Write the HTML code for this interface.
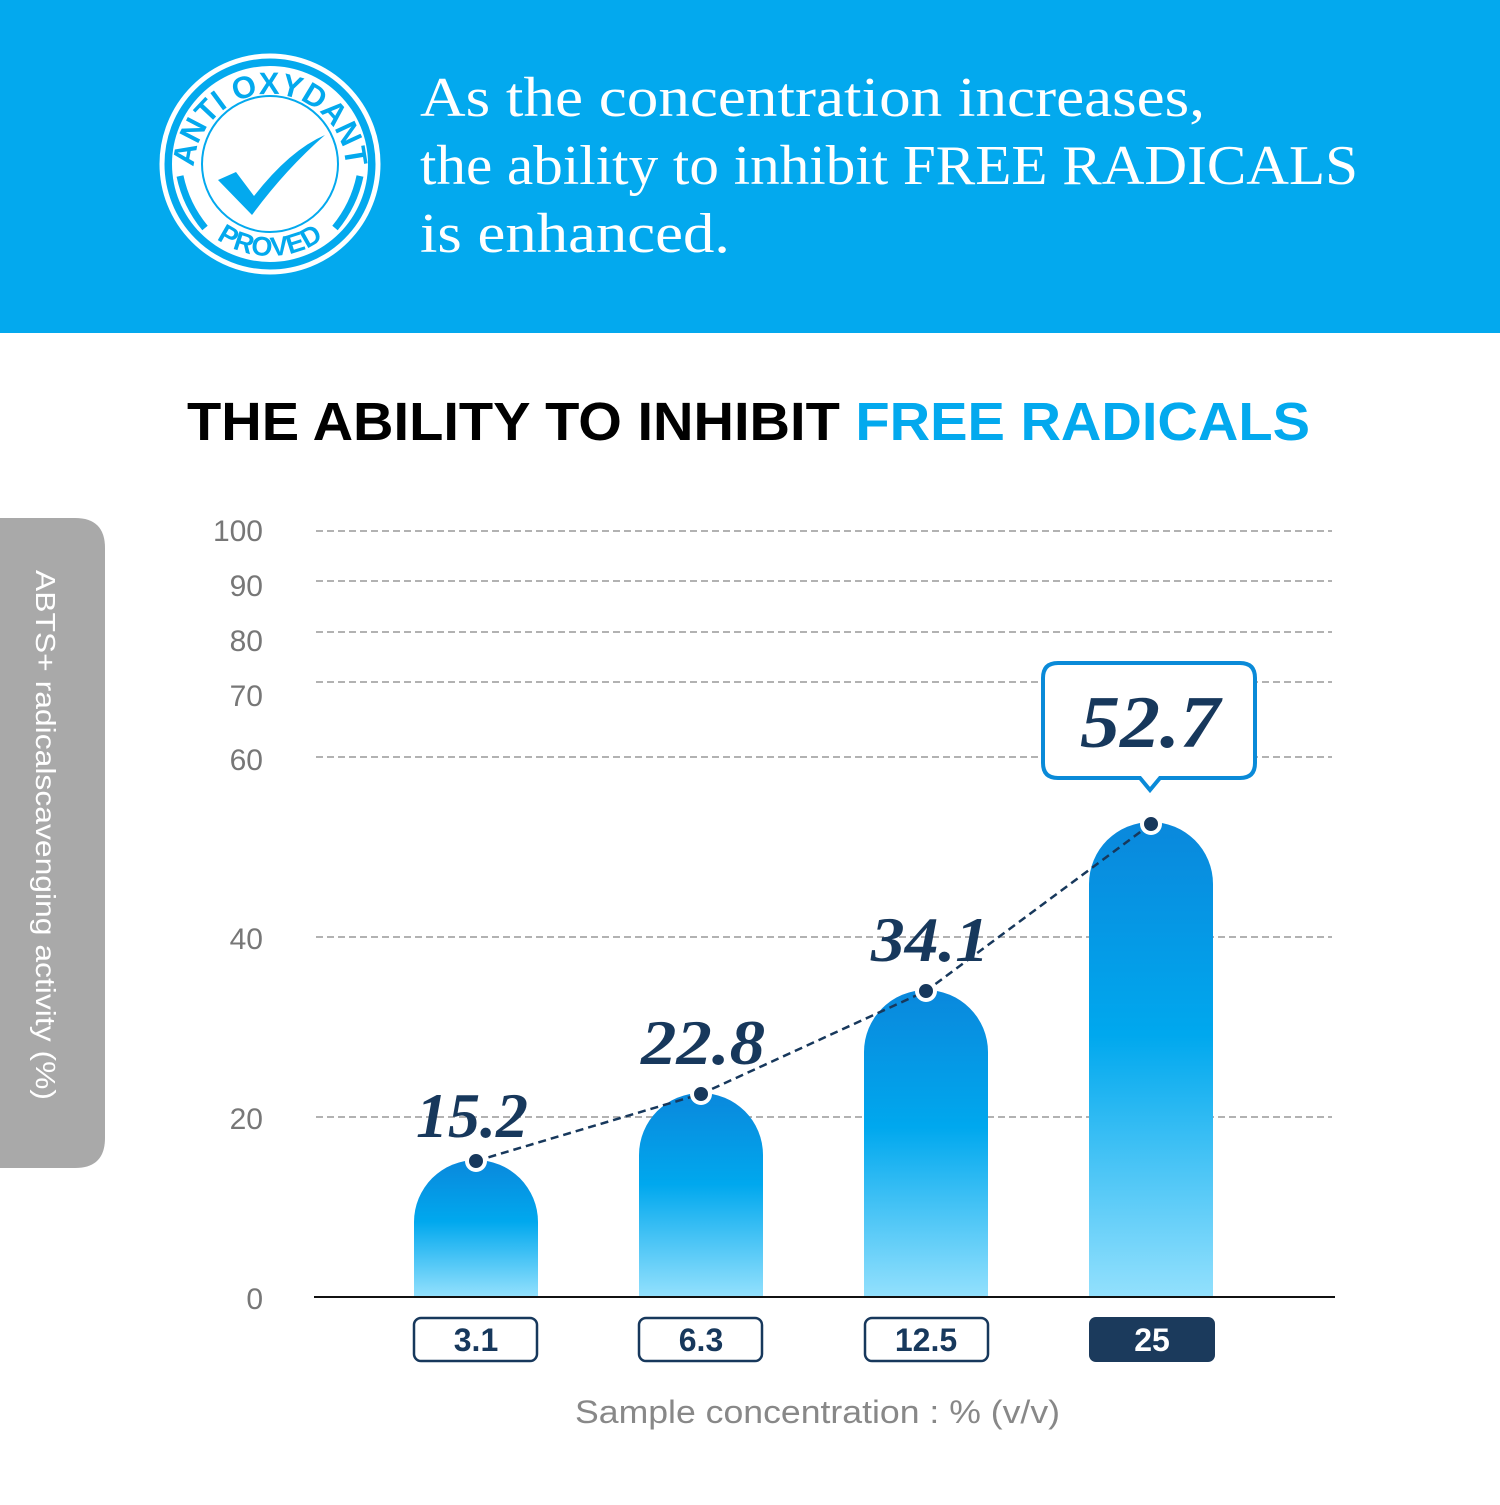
<!DOCTYPE html>
<html><head><style>
body{margin:0;width:1500px;height:1500px;background:#fff;overflow:hidden;font-family:"Liberation Sans",sans-serif}
</style></head><body>
<svg width="1500" height="1500" xmlns="http://www.w3.org/2000/svg">
<defs>
<linearGradient id="g" x1="0" y1="0" x2="0" y2="1">
<stop offset="0" stop-color="#0a88dc"/><stop offset="0.45" stop-color="#00a8ee"/><stop offset="1" stop-color="#92e0fd"/>
</linearGradient>
<path id="arcTop" d="M194,170 A76,76 0 0 1 346,170"/>
<path id="arcBot" d="M178,164 A92,92 0 0 0 362,164"/>
</defs>
<rect x="0" y="0" width="1500" height="333" fill="#03a9ee"/>
<circle cx="270" cy="164" r="108" fill="none" stroke="#fff" stroke-width="5"/>
<circle cx="270" cy="164" r="98" fill="#fff"/>
<circle cx="270" cy="164" r="68" fill="none" stroke="#03a9ee" stroke-width="2"/>
<text font-family="Liberation Sans" font-weight="bold" font-size="31" fill="#03a9ee"><textPath href="#arcTop" startOffset="50%" text-anchor="middle">ANTI OXYDANT</textPath></text>
<text font-family="Liberation Sans" font-weight="bold" font-size="27" fill="#03a9ee"><textPath href="#arcBot" startOffset="50%" text-anchor="middle">PROVED</textPath></text>
<path d="M218,180 L236,172 L254,196 Q290,150 325,135 Q285,170 252,215 Z" fill="#03a9ee"/>
<path d="M180,176 Q186,205 205,228" stroke="#03a9ee" stroke-width="7" fill="none"/>
<path d="M360,176 Q354,205 335,228" stroke="#03a9ee" stroke-width="7" fill="none"/>
<g font-family="Liberation Serif" font-size="56" fill="#fff">
<text x="420" y="116" textLength="785" lengthAdjust="spacingAndGlyphs">As the concentration increases,</text>
<text x="420" y="184" textLength="938" lengthAdjust="spacingAndGlyphs">the ability to inhibit FREE RADICALS</text>
<text x="420" y="252" textLength="310" lengthAdjust="spacingAndGlyphs">is enhanced.</text>
</g>
<text x="187" y="440" font-size="54" font-weight="bold" fill="#000" textLength="1123" lengthAdjust="spacingAndGlyphs">THE ABILITY TO INHIBIT <tspan fill="#03a9ee">FREE RADICALS</tspan></text>
<path d="M0,518 H75 Q105,518 105,548 V1138 Q105,1168 75,1168 H0 Z" fill="#a9a9a9"/>
<text transform="translate(36,570) rotate(90)" font-size="28" fill="#fff" textLength="530" lengthAdjust="spacingAndGlyphs">ABTS+ radicalscavenging activity (%)</text>
<g stroke="#999" stroke-width="1.5" stroke-dasharray="7,4">
<line x1="316" y1="531" x2="1332" y2="531"/><line x1="316" y1="581" x2="1332" y2="581"/>
<line x1="316" y1="632" x2="1332" y2="632"/><line x1="316" y1="682" x2="1332" y2="682"/>
<line x1="316" y1="757" x2="1332" y2="757"/><line x1="316" y1="937" x2="1332" y2="937"/>
<line x1="316" y1="1117" x2="1332" y2="1117"/>
</g>
<g font-size="30" fill="#777" text-anchor="end">
<text x="263" y="541">100</text><text x="263" y="596">90</text><text x="263" y="651">80</text>
<text x="263" y="706">70</text><text x="263" y="770">60</text><text x="263" y="949">40</text>
<text x="263" y="1129">20</text><text x="263" y="1309">0</text>
</g>
<g fill="url(#g)">
<path d="M414,1296 V1222 A62,62 0 0 1 538,1222 V1296 Z"/>
<path d="M639,1296 V1155 A62,62 0 0 1 763,1155 V1296 Z"/>
<path d="M864,1296 V1052 A62,62 0 0 1 988,1052 V1296 Z"/>
<path d="M1089,1296 V884 A62,62 0 0 1 1213,884 V1296 Z"/>
</g>
<line x1="314" y1="1297" x2="1335" y2="1297" stroke="#111" stroke-width="2"/>
<polyline points="476,1161 701,1094 926,991 1151,824" fill="none" stroke="#17385c" stroke-width="2.5" stroke-dasharray="8,5"/>
<g fill="#17385c" stroke="#fff" stroke-width="4">
<circle cx="476" cy="1161" r="9"/><circle cx="701" cy="1094" r="9"/><circle cx="926" cy="991" r="9"/><circle cx="1151" cy="824" r="9"/>
</g>
<path d="M1058,663 H1240 Q1255,663 1255,678 V763 Q1255,778 1240,778 H1160 L1150,790 L1140,778 H1058 Q1043,778 1043,763 V678 Q1043,663 1058,663 Z" fill="#fff" stroke="#0a8ad8" stroke-width="4"/>
<g font-family="Liberation Serif" font-style="italic" font-weight="bold" fill="#17385c" text-anchor="middle">
<text x="1150" y="747" font-size="74" textLength="140" lengthAdjust="spacingAndGlyphs">52.7</text>
<text x="472" y="1137" font-size="64" textLength="112" lengthAdjust="spacingAndGlyphs">15.2</text>
<text x="703" y="1064" font-size="64" textLength="124" lengthAdjust="spacingAndGlyphs">22.8</text>
<text x="930" y="961" font-size="64" textLength="118" lengthAdjust="spacingAndGlyphs">34.1</text>
</g>
<g fill="#fff" stroke="#17385c" stroke-width="2.5">
<rect x="414" y="1318" width="123" height="43" rx="7"/><rect x="639" y="1318" width="123" height="43" rx="7"/>
<rect x="865" y="1318" width="123" height="43" rx="7"/>
</g>
<rect x="1089" y="1317" width="126" height="45" rx="7" fill="#1b3a5c"/>
<g font-size="32" font-weight="bold" text-anchor="middle" fill="#17385c">
<text x="476" y="1351">3.1</text><text x="701" y="1351">6.3</text><text x="926" y="1351">12.5</text>
<text x="1152" y="1351" fill="#fff">25</text>
</g>
<text x="575" y="1423" font-size="32" fill="#888" textLength="485" lengthAdjust="spacingAndGlyphs">Sample concentration : % (v/v)</text>
</svg>
</body></html>
